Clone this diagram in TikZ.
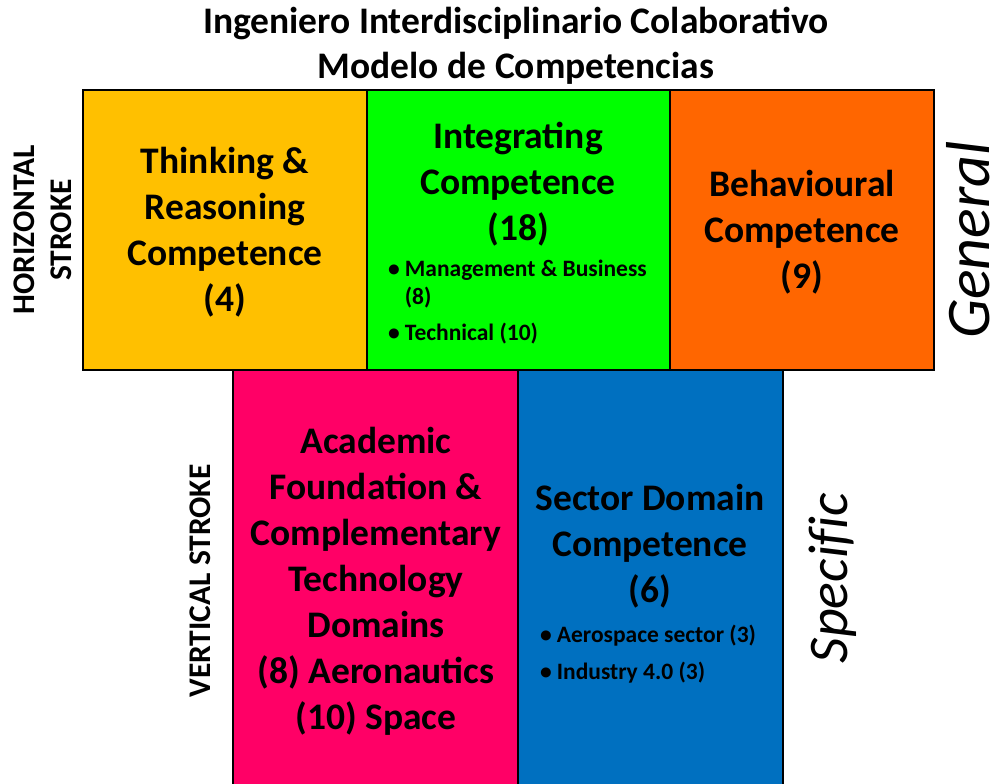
\documentclass[tikz,border=0pt]{standalone}
\usepackage{fontspec}
\setmainfont{Carlito}
\usetikzlibrary{positioning}
\definecolor{thinkcol}{RGB}{255,192,0}
\definecolor{integcol}{RGB}{0,255,0}
\definecolor{behavcol}{RGB}{255,102,0}
\definecolor{academcol}{RGB}{255,0,102}
\definecolor{sectorcol}{RGB}{0,112,192}
\tikzset{compbox/.style={draw=black,line width=2.5pt,inner sep=0pt,outer sep=0pt}}

\begin{document}
\begin{tikzpicture}[x=1pt,y=-1pt]
\tikzset{boxtext/.style={align=center,inner sep=0pt,font=\fontsize{37.5}{46}\selectfont\bfseries}}
\tikzset{bulletlist/.style={align=left,inner sep=0pt,font=\fontsize{23.5}{28}\selectfont\bfseries}}
\tikzset{sidelabel/.style={rotate=90,inner sep=0pt,font=\fontsize{62}{62}\selectfont\itshape}}
\tikzset{strokelabel/.style={rotate=90,align=center,inner sep=0pt,font=\fontsize{31.5}{37}\selectfont\bfseries}}
\useasboundingbox (0,0) rectangle (1007,784);
\node[align=center,inner sep=0pt,font=\fontsize{37.5}{45}\selectfont\bfseries] (title) at (516,46)
  {Ingeniero Interdisciplinario Colaborativo\\Modelo de Competencias};
\begin{scope}[local bounding box=TOP]
  \node[compbox,fill=thinkcol,minimum width=284pt,minimum height=280pt] (think) at (225,230) {};
  \node[compbox,fill=integcol,minimum width=303pt,minimum height=280pt] (integ) at (518.5,230) {};
  \node[compbox,fill=behavcol,minimum width=264pt,minimum height=280pt] (behav) at (802,230) {};
\end{scope}
\begin{scope}[local bounding box=BOTTOM]
  \node[compbox,fill=academcol,minimum width=285pt,minimum height=424pt] (academ) at (375.5,582) {};
  \node[compbox,fill=sectorcol,minimum width=265pt,minimum height=424pt] (sector) at (650.5,582) {};
\end{scope}
\node[boxtext] (thinktxt) at (225,232) {Thinking \&\\Reasoning\\Competence\\(4)};
\node[boxtext] (integtxt) at (518,184) {Integrating\\Competence\\(18)};
\node[bulletlist,anchor=north west] (integlist) at (388,257)
  {\begin{tabular}{@{}l@{\hspace{5pt}}l@{}}\textbullet & Management \& Business\\ & (8)\\[8pt] \textbullet & Technical (10)\end{tabular}};
\node[boxtext] (behavtxt) at (802,232) {Behavioural\\Competence\\(9)};
\node[boxtext] (academtxt) at (376,581) {Academic\\Foundation \&\\Complementary\\Technology\\Domains\\(8) Aeronautics\\(10) Space};
\node[boxtext] (sectortxt) at (650,546) {Sector Domain\\Competence\\(6)};
\node[bulletlist,anchor=north west] (sectorlist) at (540,623)
  {\begin{tabular}{@{}l@{\hspace{5pt}}l@{}}\textbullet & Aerospace sector (3)\\[9pt] \textbullet & Industry 4.0 (3)\end{tabular}};
\node[strokelabel] (hstroke) at (43,230) {HORIZONTAL\\STROKE};
\node[strokelabel] (vstroke) at (200,581) {VERTICAL STROKE};
\node[sidelabel] (general) at (968,240) {General};
\node[sidelabel,font=\fontsize{56}{60}\selectfont\itshape\addfontfeatures{Ligatures=NoCommon}] (specific) at (833,578) {Specific};
\end{tikzpicture}
\end{document}
